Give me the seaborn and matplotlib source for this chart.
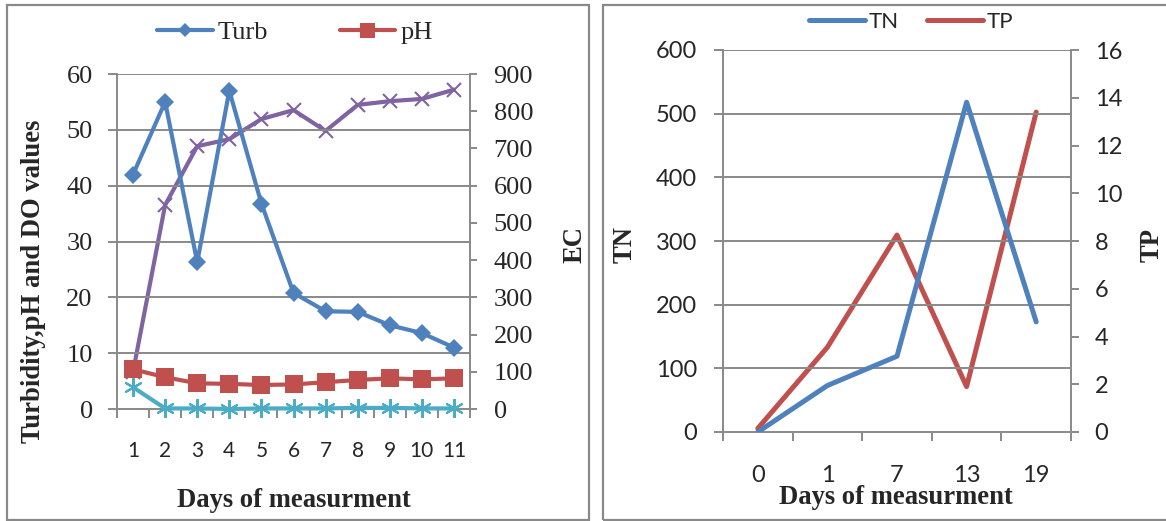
import numpy as np
import pandas as pd
import seaborn as sns
import matplotlib
matplotlib.use("Agg")
import matplotlib.pyplot as plt
from matplotlib.patches import Rectangle
from matplotlib.ticker import FixedLocator, NullFormatter

# ---- data: water quality over days of measurement ----
days = [1, 2, 3, 4, 5, 6, 7, 8, 9, 10, 11]
turb = [42.0, 55.0, 26.3, 57.0, 36.8, 20.8, 17.5, 17.4, 15.0, 13.6, 11.0]
ph = [7.1, 5.7, 4.6, 4.5, 4.3, 4.4, 4.8, 5.2, 5.5, 5.3, 5.5]
do_vals = [3.9, 0.1, 0.1, 0.0, 0.1, 0.1, 0.1, 0.2, 0.2, 0.1, 0.1]
ec = [100, 548, 706, 725, 779, 803, 747, 817, 827, 833, 858]

nut_days = ["0", "1", "7", "13", "19"]
tn = [0, 73, 119, 518, 173]
tp = [0.15, 3.55, 8.25, 1.9, 13.4]

sns.set_theme(style="white")
plt.rcParams["axes.unicode_minus"] = False

W, H = 1166, 521
fig = plt.figure(figsize=(W / 100, H / 100), dpi=100)
fig.patch.set_facecolor("white")

GRID = "#898989"
BLUE, RED, PURPLE, AQUA = "#4F81BD", "#C0504D", "#8064A2", "#4BACC6"
SERIF = "Liberation Serif"
SANS = "Lato"
TITLE_SIZE = 19.2


def frac(x0, y0, x1, y1):
    """pixel box (top-left origin) -> figure fraction rect"""
    return [x0 / W, 1 - y1 / H, (x1 - x0) / W, (y1 - y0) / H]


# panel borders
for (x0, y0, x1, y1) in [(7, 5, 589, 520), (603, 5, 1172, 520)]:
    fig.patches.append(Rectangle((x0 / W, 1 - y1 / H), (x1 - x0) / W, (y1 - y0) / H,
                                 transform=fig.transFigure, fill=False,
                                 edgecolor=GRID, linewidth=1.6))


def style_axes(ax):
    for s in ["top", "right", "left", "bottom"]:
        ax.spines[s].set_visible(False)
    for s in ["left", "bottom"]:
        ax.spines[s].set_visible(True)
        ax.spines[s].set_color(GRID)
        ax.spines[s].set_linewidth(1.4)
    ax.grid(False)
    ax.set_facecolor("none")


def style_twin(ax):
    for s in ["top", "left", "bottom"]:
        ax.spines[s].set_visible(False)
    ax.spines["right"].set_visible(True)
    ax.spines["right"].set_color(GRID)
    ax.spines["right"].set_linewidth(1.4)
    ax.grid(False)


# =================== left panel ===================
df = pd.DataFrame({"day": days, "Turb": turb, "pH": ph, "DO": do_vals, "EC": ec})
ax1 = fig.add_axes(frac(117, 74, 470, 409))
style_axes(ax1)
ax1.set_xlim(0.5, 11.5)
ax1.set_ylim(0, 60)
ax1.set_yticks(np.arange(0, 61, 10))
for yv in np.arange(10, 61, 10):
    ax1.axhline(yv, color=GRID, linewidth=1.4, zorder=0)

ax2 = ax1.twinx()
ax2.set_ylim(0, 900)
ax2.set_yticks(np.arange(0, 901, 100))
style_twin(ax2)

sns.lineplot(data=df, x="day", y="EC", ax=ax2, color=PURPLE, linewidth=3.0,
             marker="x", markersize=10, markeredgewidth=1.5, markeredgecolor=PURPLE,
             legend=False, zorder=2, clip_on=False)
sns.lineplot(data=df, x="day", y="DO", ax=ax1, color=AQUA, linewidth=3.0,
             marker=(6, 2, 0), markersize=13.5, markeredgewidth=1.5, markeredgecolor=AQUA,
             legend=False, zorder=3, clip_on=False)
sns.lineplot(data=df, x="day", y="pH", ax=ax1, color=RED, linewidth=3.0,
             marker="s", markersize=13.5, markeredgewidth=0, label="pH", zorder=4,
             clip_on=False)
sns.lineplot(data=df, x="day", y="Turb", ax=ax1, color=BLUE, linewidth=3.0,
             marker="D", markersize=9, markeredgewidth=0, label="Turb", zorder=5,
             clip_on=False)
ax1.set_zorder(ax2.get_zorder() + 1)
ax1.patch.set_visible(False)

# category ticks between days, labels at centres
ax1.xaxis.set_major_locator(FixedLocator(np.arange(0.5, 12.0, 1.0)))
ax1.xaxis.set_major_formatter(NullFormatter())
ax1.xaxis.set_minor_locator(FixedLocator(days))
ax1.set_xticklabels([str(d) for d in days], minor=True)
ax1.tick_params(axis="x", which="major", direction="out", length=6.5, width=1.4,
                color=GRID, bottom=True)
ax1.tick_params(axis="x", which="minor", length=0, pad=23, labelsize=15)
for t in ax1.get_xticklabels(minor=True):
    t.set_fontfamily(SANS)
ax1.tick_params(axis="y", direction="out", length=6.5, width=1.4, color=GRID,
                left=True, labelsize=19, pad=11)
for t in ax1.get_yticklabels():
    t.set_fontfamily(SERIF)
ax2.tick_params(axis="y", direction="out", length=5, width=1.4, color=GRID,
                right=True, labelsize=19, pad=12)
for t in ax2.get_yticklabels():
    t.set_fontfamily(SERIF)

ax1.set_xlabel("Days of measurment", fontfamily=SERIF, fontweight="bold", fontsize=TITLE_SIZE)
ax1.xaxis.set_label_coords(0.5, -0.235)
ax1.set_ylabel("Turbidity,pH and DO values", fontfamily=SERIF, fontweight="bold",
               fontsize=TITLE_SIZE)
ax1.yaxis.set_label_coords(-0.20, 0.38)
ax2.set_ylabel("EC", fontfamily=SERIF, fontweight="bold", fontsize=TITLE_SIZE)
ax2.yaxis.set_label_coords(1.262, 0.49)

h, l = ax1.get_legend_handles_labels()
order = [l.index("Turb"), l.index("pH")]
ax1.legend([h[i] for i in order], [l[i] for i in order], loc="center",
           bbox_to_anchor=(295 / W, 1 - 32 / H), bbox_transform=fig.transFigure,
           ncol=2, frameon=False, handlelength=2.1, columnspacing=2.7, handletextpad=0.2,
           markerscale=0.8, prop={"family": SERIF, "size": 19})

# =================== right panel ===================
nd = pd.DataFrame({"pos": np.arange(len(nut_days)), "TN": tn, "TP": tp})
bx1 = fig.add_axes(frac(723, 50, 1071, 432))
style_axes(bx1)
bx1.set_xlim(-0.5, len(nut_days) - 0.5)
bx1.set_ylim(0, 600)
bx1.set_yticks(np.arange(0, 601, 100))
for yv in np.arange(100, 601, 100):
    bx1.axhline(yv, color=GRID, linewidth=1.4, zorder=0)

bx2 = bx1.twinx()
bx2.set_ylim(0, 16)
bx2.set_yticks(np.arange(0, 17, 2))
style_twin(bx2)

sns.lineplot(data=nd, x="pos", y="TN", ax=bx1, color=BLUE, linewidth=3.6,
             label="TN", zorder=3)
sns.lineplot(data=nd, x="pos", y="TP", ax=bx2, color=RED, linewidth=3.6,
             label="TP", zorder=3)
if bx2.get_legend() is not None:
    bx2.get_legend().remove()

bx1.xaxis.set_major_locator(FixedLocator(np.arange(-0.5, len(nut_days), 1.0)))
bx1.xaxis.set_major_formatter(NullFormatter())
bx1.xaxis.set_minor_locator(FixedLocator(np.arange(len(nut_days))))
bx1.set_xticklabels(nut_days, minor=True)
bx1.tick_params(axis="x", which="major", direction="out", length=6.5, width=1.4,
                color=GRID, bottom=True)
bx1.tick_params(axis="x", which="minor", length=0, pad=24, labelsize=17)
bx1.tick_params(axis="y", direction="out", length=6.5, width=1.4, color=GRID,
                left=True, labelsize=17, pad=12)
bx2.tick_params(axis="y", direction="out", length=6, width=1.4, color=GRID,
                right=True, labelsize=17, pad=11)
for t in bx1.get_xticklabels(minor=True) + bx1.get_yticklabels() + bx2.get_yticklabels():
    t.set_fontfamily(SANS)

bx1.set_xlabel("Days of measurment", fontfamily=SERIF, fontweight="bold", fontsize=TITLE_SIZE)
bx1.xaxis.set_label_coords(0.497, -0.14)
bx1.set_ylabel("TN", fontfamily=SERIF, fontweight="bold", fontsize=TITLE_SIZE)
bx1.yaxis.set_label_coords(-0.245, 0.49)
bx2.set_ylabel("TP", fontfamily=SERIF, fontweight="bold", fontsize=TITLE_SIZE)
bx2.yaxis.set_label_coords(1.198, 0.49)

h1, l1 = bx1.get_legend_handles_labels()
h2, l2 = bx2.get_legend_handles_labels()
bx1.legend(h1 + h2, l1 + l2, loc="center",
           bbox_to_anchor=(911 / W, 1 - 22 / H), bbox_transform=fig.transFigure,
           ncol=2, frameon=False, handlelength=2.5, columnspacing=1.3, handletextpad=0.15,
           prop={"family": SANS, "size": 16})
bx1.set_zorder(bx2.get_zorder() + 1)
bx1.patch.set_visible(False)

fig.savefig("out.png", dpi=100)
